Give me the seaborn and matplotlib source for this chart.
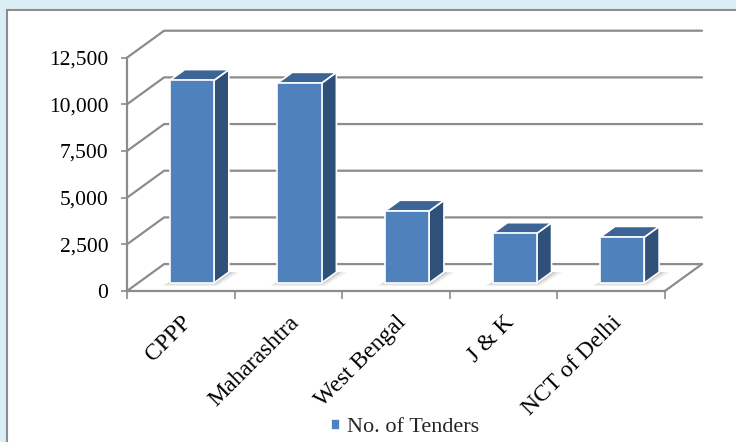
import matplotlib
matplotlib.use("Agg")
import numpy as np
import pandas as pd
import seaborn as sns
import matplotlib.pyplot as plt
from matplotlib.patches import Polygon, Rectangle
from matplotlib.ticker import FixedLocator, NullFormatter, FuncFormatter

# data
states = ["CPPP", "Maharashtra", "West Bengal", "J & K", "NCT of Delhi"]
tenders = [10850, 10700, 3850, 2650, 2450]
y_ticks = [0, 2500, 5000, 7500, 10000, 12500]
series_name = "No. of Tenders"

# oblique "3-D" look, in data units
DEPTH_X, DEPTH_Y = 0.345, 1442      # full floor depth
BAR_FRONT, BAR_BACK = 0.30, 0.70    # where the bars sit inside that depth
BAR_W = 0.41

FRONT, TOP, SIDE = "#4F81BD", "#3C6494", "#2F5179"
GRID = "#8C8C8C"

sns.set_theme(style="white")
plt.rcParams["font.family"] = ["Liberation Serif", "DejaVu Serif"]

fig = plt.figure(figsize=(7.36, 4.42), dpi=100, facecolor="#DBEEF4")
fig.patches.append(Rectangle((7 / 736, -0.05), 1.0, 432 / 442 + 0.05,
                             transform=fig.transFigure, facecolor="white",
                             edgecolor=GRID, lw=1.5, zorder=-1))

ax = fig.add_axes([127 / 736, 151 / 442, 575 / 736, 260.3 / 442])
ax.patch.set_alpha(0)

df = pd.DataFrame({"state": states, "tenders": tenders})
sns.barplot(data=df, x="state", y="tenders", color=FRONT, saturation=1,
            width=BAR_W, edgecolor="white", linewidth=1.2,
            label=series_name, ax=ax, zorder=5)
if ax.get_legend() is not None:
    ax.get_legend().remove()

# push the front faces back into the depth and add top / side faces
dx0, dy0 = BAR_FRONT * DEPTH_X, BAR_FRONT * DEPTH_Y
ddx = (BAR_BACK - BAR_FRONT) * DEPTH_X
ddy = (BAR_BACK - BAR_FRONT) * DEPTH_Y
for bar in list(ax.patches):
    x0 = bar.get_x() + dx0
    bar.set_x(x0)
    bar.set_y(dy0)
    w, h = bar.get_width(), bar.get_height()
    x1, y1 = x0 + w, dy0 + h
    side = [(x1, dy0), (x1 + ddx, dy0 + ddy), (x1 + ddx, y1 + ddy), (x1, y1)]
    top = [(x0, y1), (x1, y1), (x1 + ddx, y1 + ddy), (x0 + ddx, y1 + ddy)]
    # soft shadow on the floor, a few layers
    for grow, a in [(1.0, 0.12), (0.6, 0.18), (0.3, 0.22)]:
        shadow = [(x0 - 0.07 * grow, dy0 - 160 * grow),
                  (x1 + 0.03 * grow, dy0 - 160 * grow),
                  (x1 + ddx + 0.1 * grow, dy0 + ddy),
                  (x0 + ddx, dy0 + ddy)]
        ax.add_patch(Polygon(shadow, closed=True, fc="#7f7f7f", ec="none",
                             alpha=a, zorder=3))
    ax.add_patch(Polygon(side, closed=True, fc=SIDE, ec="white", lw=1.2, zorder=4))
    ax.add_patch(Polygon(top, closed=True, fc=TOP, ec="white", lw=1.2, zorder=4))

# walls: gridlines on back wall + diagonals on the side wall
n = len(states)
for v in y_ticks:
    ax.plot([-0.5, -0.5 + DEPTH_X, n - 0.5 + DEPTH_X],
            [v, v + DEPTH_Y, v + DEPTH_Y],
            color=GRID, lw=1.6, zorder=1, clip_on=False,
            solid_joinstyle="miter")
ax.plot([n - 0.5, n - 0.5 + DEPTH_X], [0, DEPTH_Y], color=GRID, lw=1.6,
        zorder=1, clip_on=False)

ax.set_xlim(-0.5, n - 0.5 + DEPTH_X)
ax.set_ylim(0, y_ticks[-1] + DEPTH_Y)

for s in ["top", "right"]:
    ax.spines[s].set_visible(False)
for s in ["left", "bottom"]:
    ax.spines[s].set_color(GRID)
    ax.spines[s].set_linewidth(1.6)
    ax.spines[s].set_zorder(2)
ax.spines["left"].set_bounds(0, y_ticks[-1])
ax.spines["bottom"].set_bounds(-0.5, n - 0.5)

ax.set_yticks(y_ticks)
ax.yaxis.set_major_formatter(FuncFormatter(lambda v, p: f"{v:,.0f}"))
ax.tick_params(axis="y", left=True, length=4.5, width=1.2, color=GRID,
               pad=9, labelsize=15.5, labelcolor="black")

ax.xaxis.set_major_locator(FixedLocator(np.arange(-0.5, n)))
ax.xaxis.set_major_formatter(NullFormatter())
ax.set_xticks(range(n), labels=states, minor=True)
ax.tick_params(axis="x", which="major", bottom=True, length=5.5, width=1.2,
               color=GRID)
ax.tick_params(axis="x", which="minor", bottom=True, length=0, pad=15,
               labelsize=17, labelcolor="black", labelrotation=45)
for lab in ax.get_xticklabels(minor=True):
    lab.set_ha("right")
    lab.set_rotation_mode("anchor")

ax.set_xlabel("")
ax.set_ylabel("")

ax.legend(loc="center", bbox_to_anchor=(405 / 736, 14 / 442),
          bbox_transform=fig.transFigure, frameon=False, fontsize=16,
          handlelength=0.42, handleheight=0.42, handletextpad=0.3)

fig.savefig("out.png", dpi=100, facecolor=fig.get_facecolor())
